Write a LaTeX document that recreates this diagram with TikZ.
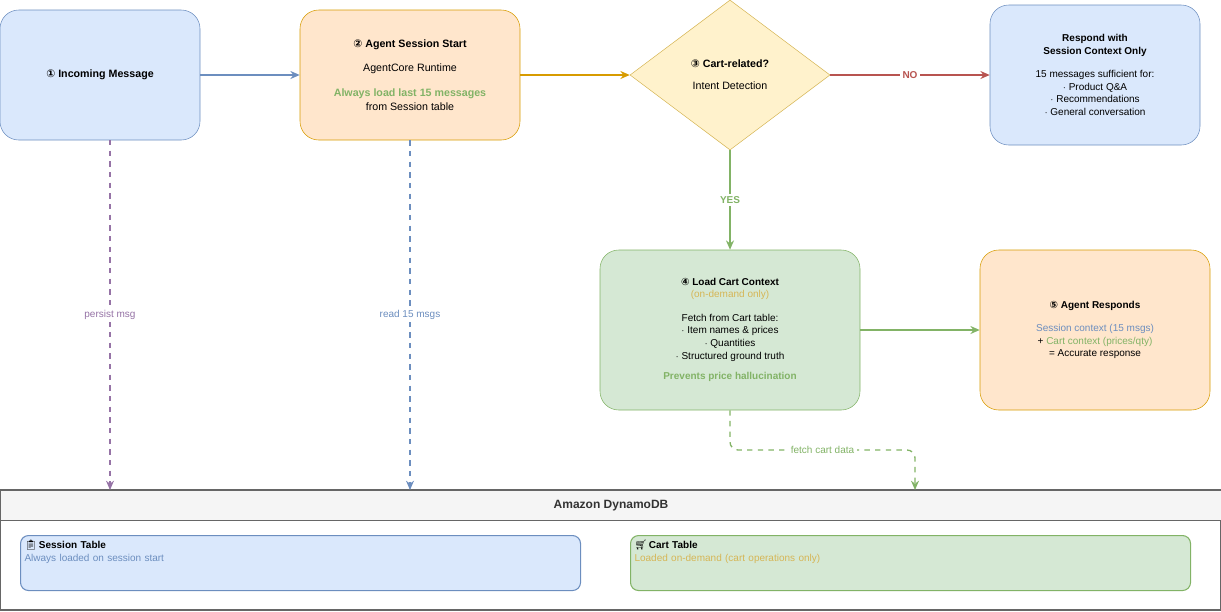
\documentclass[tikz,border=0pt]{standalone}
\usepackage{fontspec}
\setmainfont{Liberation Sans}
\newfontfamily\emojifont{Noto Emoji}
\newfontfamily\symfont{DejaVu Sans}
\usetikzlibrary{shapes.geometric,arrows.meta}
\definecolor{bluefill}{HTML}{DAE8FC}
\definecolor{blueline}{HTML}{6C8EBF}
\definecolor{orangefill}{HTML}{FFE6CC}
\definecolor{orangeline}{HTML}{D79B00}
\definecolor{yellowfill}{HTML}{FFF2CC}
\definecolor{yellowline}{HTML}{D6B656}
\definecolor{greenfill}{HTML}{D5E8D4}
\definecolor{greenline}{HTML}{82B366}
\definecolor{redline}{HTML}{B85450}
\definecolor{purpleline}{HTML}{9673A6}
\definecolor{greyline}{HTML}{666666}
\definecolor{ondemand}{HTML}{D6B656}
\tikzset{
  card/.style={draw, rounded corners=14pt, align=center, font=\fontsize{8}{10.5}\selectfont, inner sep=0pt},
  flow/.style={-{Stealth[length=7pt,width=6pt]}, line width=1.2pt},
  dataflow/.style={-{Stealth[length=7pt,width=6pt]}, line width=1pt, dash pattern=on 4pt off 4pt},
  tablebox/.style={draw, rounded corners=6pt, line width=0.8pt, minimum height=41.25pt, anchor=north west, align=left, font=\fontsize{7.5}{9.5}\selectfont, inner sep=0pt},
  lbl/.style={fill=white, font=\fontsize{7.5}{9}\selectfont, inner sep=2pt}
}
\newcommand{\circnum}[1]{{\symfont #1}}
\begin{document}
\begin{tikzpicture}[x=0.75pt,y=-0.75pt]
\useasboundingbox (0,0) rectangle (1221,611);
% Top row
\node[card, fill=bluefill, draw=blueline, minimum width=150pt, minimum height=97.5pt] (incoming) at (100,75) {\textbf{\circnum{①} Incoming Message}};
\node[card, fill=orangefill, draw=orangeline, minimum width=165pt, minimum height=97.5pt] (start) at (410,75)
  {\textbf{\circnum{②} Agent Session Start}\\[8pt] AgentCore Runtime\\[8pt] \textcolor{greenline}{\textbf{Always load last 15 messages}}\\ from Session table};
\node[draw=yellowline, fill=yellowfill, diamond, aspect=1.33, minimum width=150pt, minimum height=112.5pt, inner sep=0pt, align=center, font=\fontsize{8}{10.5}\selectfont] (cart) at (730,75)
  {\textbf{\circnum{③} Cart-related?}\\[6pt] Intent Detection};
\node[card, fill=bluefill, draw=blueline, minimum width=157.5pt, minimum height=105pt, font=\fontsize{7.5}{9.5}\selectfont] (respond) at (1095,75)
  {\textbf{Respond with}\\ \textbf{Session Context Only}\\[8pt] 15 messages sufficient for:\\ $\cdot$ Product Q\&A\\ $\cdot$ Recommendations\\ $\cdot$ General conversation};
% Middle row
\node[card, fill=greenfill, draw=greenline, minimum width=195pt, minimum height=120pt, font=\fontsize{7.5}{9.5}\selectfont] (load) at (730,330)
  {\textbf{\circnum{④} Load Cart Context}\\ \textcolor{ondemand}{(on-demand only)}\\[8pt] Fetch from Cart table:\\ $\cdot$ Item names \& prices\\ $\cdot$ Quantities\\ $\cdot$ Structured ground truth\\[6pt] \textcolor{greenline}{\textbf{Prevents price hallucination}}};
\node[card, fill=orangefill, draw=orangeline, minimum width=172.5pt, minimum height=120pt, font=\fontsize{7.5}{9.5}\selectfont] (answer) at (1095,330)
  {\textbf{\circnum{⑤} Agent Responds}\\[8pt] \textcolor{blueline}{Session context (15 msgs)}\\ + \textcolor{greenline}{Cart context (prices/qty)}\\ = Accurate response};
% DynamoDB container
\draw[greyline, line width=0.8pt] (0,490) rectangle (1221,610);
\node[draw=greyline, fill=gray!8, line width=0.8pt, minimum width=915.75pt, minimum height=22.5pt, anchor=north west, inner sep=0pt, font=\fontsize{9}{11}\selectfont\bfseries, text=black!80] (dynamo) at (0,490) {Amazon DynamoDB};
\node[tablebox, fill=bluefill, draw=blueline, minimum width=420pt, text width=414pt] (sessiontab) at (20,535)
  {\vspace{-20pt}\\{\emojifont 📋}\,\textbf{Session Table}\\ \textcolor{blueline}{Always loaded on session start}};
\node[tablebox, fill=greenfill, draw=greenline, minimum width=420pt, text width=414pt] (carttab) at (630,535)
  {\vspace{-20pt}\\{\emojifont 🛒}\,\textbf{Cart Table}\\ \textcolor{ondemand}{Loaded on-demand (cart operations only)}};
% Connector ends on the container
\coordinate (persistend) at (110,490);
\coordinate (readend) at (410,490);
\coordinate (fetchend) at (915,490);
% Main flow
\draw[flow, blueline] (incoming) -- (start);
\draw[flow, orangeline] (start) -- (cart);
\draw[flow, redline] (cart) -- (respond) node[midway, lbl, text=redline, font=\fontsize{7.5}{9}\selectfont\bfseries] {NO};
\draw[flow, greenline] (cart) -- (load) node[pos=0.5, lbl, text=greenline, font=\fontsize{7.5}{9}\selectfont\bfseries] {YES};
\draw[flow, greenline] (load) -- (answer);
% Data access
\draw[dataflow, purpleline] (110,140) -- (persistend) node[pos=0.5, lbl, text=purpleline] {persist msg};
\draw[dataflow, blueline] (start.south) -- (readend) node[pos=0.5, lbl, text=blueline] {read 15 msgs};
\draw[dataflow, greenline, rounded corners=6pt] (load.south) -- (730,450) -- (915,450) node[pos=0.5, lbl, text=greenline] {fetch cart data} -- (fetchend);
\end{tikzpicture}
\end{document}
